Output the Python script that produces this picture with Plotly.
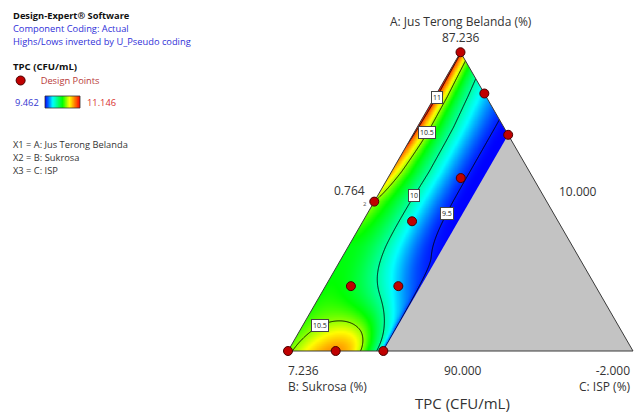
import numpy as np
import plotly.graph_objects as go

# ---- mixture definition (A + B + C = 98, U-pseudo coding) ----
MIX_TOTAL = 98.0
upper_A, upper_B, upper_C = 90.0, 10.0, 0.764
PSEUDO_RANGE = upper_A + upper_B + upper_C - MIX_TOTAL   # 2.764

comp_names = ["A: Jus Terong Belanda (%)", "B: Sukrosa (%)", "C: ISP (%)"]
factor_lines = ["X1 = A: Jus Terong Belanda", "X2 = B: Sukrosa", "X3 = C: ISP"]

# ---- design points (actual %) ----
design_A = [87.236, 87.618, 88.000, 88.618, 88.40, 88.80, 89.40, 89.40, 90.000, 90.000, 90.000]
design_B = [10.000, 10.000, 10.000, 8.618, 9.42, 8.83, 8.04, 8.42, 7.236, 7.618, 8.000]
design_C = [0.764, 0.382, 0.000, 0.764, 0.18, 0.37, 0.56, 0.18, 0.764, 0.382, 0.000]
design_reps = [1, 1, 1, 2, 1, 1, 1, 1, 1, 1, 1]

# ---- response: TPC (CFU/mL) ----
resp_min, resp_max = 9.462, 11.146
base_level = 9.462
k_knot_a = [0.0, 0.6, 0.75, 1.0]
k_knot_v = [0.80, 0.80, 0.72, 0.45]
ridge_knot_a = [0.0, 0.35, 0.5, 0.7, 0.85, 1.0]
ridge_knot_v = [0.0, 0.0, 0.24, 0.81, 1.07, 1.14]
ridge_width = 0.155
floor_start = 0.94
bump_amp, bump_center, bump_decay, bump_edge = 1.10, 0.62, 0.165, 0.04
bump_sigma_left, bump_sigma_right = 0.33, 0.27

contour_levels = [9.5, 10.0, 10.5, 11.0]
# (level, pseudo-A position, label text)
contour_label_spots = [(11.0, 0.85, "11"), (10.5, 0.73, "10.5"), (10.0, 0.52, "10"),
                       (9.5, 0.46, "9.5"), (10.5, 0.085, "10.5")]

SQ3 = np.sqrt(3) / 2
C_MAX_PSEUDO = upper_C / PSEUDO_RANGE      # C = 0 boundary in pseudo units


def to_pseudo(A, C):
    a = (upper_A - np.asarray(A, float)) / PSEUDO_RANGE
    c = (upper_C - np.asarray(C, float)) / PSEUDO_RANGE
    return a, c


def to_xy(a, c):
    return c + a / 2.0, a * SQ3


def response(a, u):
    a = np.clip(a, 0.0, 1.0)
    u = np.clip(u, -0.3, 1.3)
    K = np.interp(a, k_knot_a, k_knot_v)
    R = np.interp(a, ridge_knot_a, ridge_knot_v)
    us = np.clip(u / floor_start, None, 1.0)
    h = 1 - 3 * us ** 2 + 2 * us ** 3
    ridge = R * np.exp(-u / ridge_width)
    sig = np.where(u < bump_center, bump_sigma_left, bump_sigma_right)
    bump = (bump_amp * np.exp(-(u - bump_center) ** 2 / (2 * sig ** 2))
            * np.exp(-(a / bump_decay) ** 1.5)
            * np.tanh(np.clip(1 - u, 0, None) / bump_edge))
    return base_level + K * h + ridge + bump


# ---- grid over the feasible region's bounding box ----
xs = np.linspace(-0.01, 0.65, 331)
ys = np.linspace(-0.01, 0.876, 444)
X, Y = np.meshgrid(xs, ys)
A_ps = Y / SQ3
C_ps = X - A_ps / 2
Z = response(A_ps, C_ps / C_MAX_PSEUDO)

colorscale = [[0.0, "rgb(0,0,255)"], [0.22, "rgb(0,255,255)"], [0.5, "rgb(0,255,0)"],
              [0.7, "rgb(255,255,0)"], [1.0, "rgb(255,0,0)"]]

fig = go.Figure()
fig.add_trace(go.Contour(
    x=xs, y=ys, z=Z, colorscale=colorscale, zmin=resp_min, zmax=resp_max, zauto=False,
    contours=dict(start=contour_levels[0], end=contour_levels[-1], size=0.5, coloring="heatmap"),
    line=dict(color="black", width=0.9), showscale=False, hoverinfo="skip", showlegend=False))

# simplex geometry
vB, vC, vA = to_xy(0, 0), to_xy(0, 1), to_xy(1, 0)
corner_top = to_xy(1 - C_MAX_PSEUDO, C_MAX_PSEUDO)
corner_bot = to_xy(0, C_MAX_PSEUDO)


def poly(points, color):
    px = [p[0] for p in points] + [points[0][0]]
    py = [p[1] for p in points] + [points[0][1]]
    fig.add_trace(go.Scatter(x=px, y=py, mode="lines", fill="toself", fillcolor=color,
                             line=dict(width=0, color=color), hoverinfo="skip", showlegend=False))


poly([vB, vA, (vA[0], 1.2), (-1.0, 1.2), (-1.0, 0.0)], "white")
poly([vA, vC, (2.0, 0.0), (2.0, 1.2), (vA[0], 1.2)], "white")
poly([(-1.0, 0.0), (2.0, 0.0), (2.0, -0.05), (-1.0, -0.05)], "white")
poly([corner_top, corner_bot, vC], "#c3c3c3")

fig.add_trace(go.Scatter(x=[vB[0], vA[0], vC[0], vB[0]], y=[vB[1], vA[1], vC[1], vB[1]],
                         mode="lines", line=dict(color="#3a3a3a", width=1),
                         hoverinfo="skip", showlegend=False))

da, dc = to_pseudo(design_A, design_C)
dx, dy = to_xy(da, dc)
fig.add_trace(go.Scatter(x=dx, y=dy, mode="markers", name="Design Points",
                         marker=dict(size=9, color="#c00000", line=dict(color="#4a0000", width=1)),
                         showlegend=True))

# legend gradient bar
fig.add_trace(go.Heatmap(z=[np.linspace(resp_min, resp_max, 120)], colorscale=colorscale,
                         zmin=resp_min, zmax=resp_max, showscale=False, xaxis="x2", yaxis="y2",
                         hoverinfo="skip"))

W, H = 635, 413
ann = []


def ptext(px, py, text, size=9, color="#222", bold=False, anchor="left"):
    t = f"<b>{text}</b>" if bold else text
    ann.append(dict(x=px / W, y=1 - py / H, xref="paper", yref="paper", text=t, showarrow=False,
                    xanchor=anchor, yanchor="middle", font=dict(size=size, color=color)))


ptext(11, 15, "Design-Expert® Software", 9.3, "#111", True)
ptext(11, 28, "Component Coding: Actual", 9.3, "#2f2fd8")
ptext(11, 41, "Highs/Lows inverted by U_Pseudo coding", 9.3, "#2f2fd8")
ptext(11, 66, "TPC (CFU/mL)", 9.6, "#111", True)
ptext(41, 102, f"{resp_min:.3f}", 9.3, "#3434d0", anchor="right")
ptext(85, 102, f"{resp_max:.3f}", 9.3, "#d83030")
for i, line in enumerate(factor_lines):
    ptext(11, 144 + 13 * i, line, 9.3, "#333")


def dtext(x, y, text, xanchor, yanchor, xs_=0, ys_=0, size=12, color="#333", align="center"):
    ann.append(dict(x=x, y=y, xref="x", yref="y", text=text, showarrow=False,
                    xanchor=xanchor, yanchor=yanchor, xshift=xs_, yshift=ys_, align=align,
                    font=dict(size=size, color=color)))


vert_A = MIX_TOTAL - upper_B - upper_C
vert_B = MIX_TOTAL - upper_A - upper_C
vert_C = MIX_TOTAL - upper_A - upper_B
dtext(vA[0], vA[1], f"{comp_names[0]}<br>{vert_A:.3f}", "center", "bottom", 0, 4)
mid_left = to_xy(0.5, 0.0)
mid_right = to_xy(0.5, 0.5)
mid_bot = to_xy(0.0, 0.5)
dtext(mid_left[0], mid_left[1], f"{upper_C:.3f}", "right", "middle", -7, 11)
dtext(mid_right[0], mid_right[1], f"{upper_B:.3f}", "left", "middle", 10, 10)
dtext(vB[0], vB[1], f"{vert_B:.3f}<br>{comp_names[1]}", "left", "top", -2, -9, align="left")
dtext(mid_bot[0], mid_bot[1], f"{upper_A:.3f}", "center", "top", 2, -9)
dtext(vC[0], vC[1], f"{vert_C:.3f}<br>{comp_names[2]}", "right", "top", 0, -9, align="right")
dtext(mid_bot[0], mid_bot[1], "TPC (CFU/mL)", "center", "top", 2, -40, size=15)

for x_, y_, r in zip(dx, dy, design_reps):
    if r > 1:
        dtext(x_, y_, str(r), "right", "middle", -5, -2, size=6, color="#555")

# contour level labels placed on their lines
for level, a_pos, txt in contour_label_spots:
    u_max = min(1.0, (1 - a_pos) / C_MAX_PSEUDO)
    us = np.linspace(0, u_max, 4000)
    vals = response(np.full_like(us, a_pos), us) - level
    idx = np.where(np.sign(vals[:-1]) != np.sign(vals[1:]))[0]
    if len(idx) == 0:
        continue
    i = idx[0]
    u0 = us[i] - vals[i] * (us[i + 1] - us[i]) / (vals[i + 1] - vals[i])
    lx, ly = to_xy(a_pos, u0 * C_MAX_PSEUDO)
    ann.append(dict(x=lx, y=ly, xref="x", yref="y", text=txt, showarrow=False,
                    font=dict(size=7, color="#222"), bgcolor="white", bordercolor="#444",
                    borderwidth=1, borderpad=1))

x_px0, y_px0, scale = 288.0, 351.0, 345.0
fig.update_layout(
    width=W, height=H, margin=dict(l=0, r=0, t=0, b=0),
    paper_bgcolor="white", plot_bgcolor="white",
    font=dict(family="Open Sans, Noto Sans, sans-serif"),
    xaxis=dict(range=[-x_px0 / scale, (W - x_px0) / scale], visible=False, domain=[0, 1]),
    yaxis=dict(range=[-(H - y_px0) / scale, y_px0 / scale], visible=False, domain=[0, 1]),
    xaxis2=dict(domain=[45 / W, 80 / W], visible=False, anchor="y2"),
    yaxis2=dict(domain=[1 - 108 / H, 1 - 96 / H], visible=False, anchor="x2"),
    legend=dict(x=0.001, y=1 - 66 / H, xanchor="left", yanchor="top",
                font=dict(size=9.3, color="#b83a3a"), bgcolor="rgba(0,0,0,0)",
                itemwidth=30, tracegroupgap=0),
    annotations=ann,
    shapes=[dict(type="rect", xref="paper", yref="paper", x0=45 / W, x1=80 / W,
                 y0=1 - 108 / H, y1=1 - 96 / H, line=dict(color="#333", width=0.8))],
)

fig.write_html("out.html")
